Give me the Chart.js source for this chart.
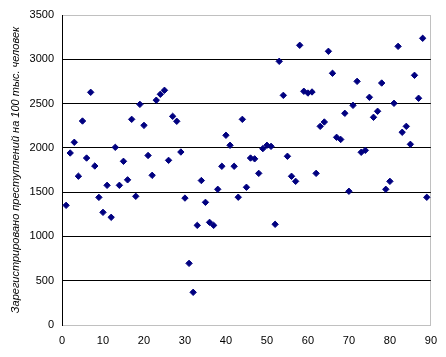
<!DOCTYPE html>
<html>
<head>
<meta charset="utf-8">
<script src="https://cdn.jsdelivr.net/npm/chart.js@4"></script>
<style>
  html, body { margin: 0; padding: 0; background: #ffffff; }
  #wrap { width: 446px; height: 357px; }
</style>
</head>
<body>
<div id="wrap"><canvas id="c" width="446" height="357"></canvas></div>
<script>
const regionIndex = [
  1,2,3,4,5,6,7,8,9,10,11,12,13,14,15,16,17,18,19,20,
  21,22,23,24,25,26,27,28,29,30,31,32,33,34,35,36,37,38,39,40,
  41,42,43,44,45,46,47,48,49,50,51,52,53,54,55,56,57,58,59,60,
  61,62,63,64,65,66,67,68,69,70,71,72,73,74,75,76,77,78,79,80,
  81,82,83,84,85,86,87,88,89
];
const crimesPer100k = [
  1351,1942,2063,1680,2303,1885,2627,1795,1441,1272,
  1577,1216,2006,1577,1848,1639,2322,1453,2491,2254,
  1914,1690,2538,2605,2650,1859,2356,2300,1953,1433,
  696,369,1125,1631,1385,1159,1125,1532,1792,2142,
  2029,1792,1443,2322,1555,1885,1876,1712,1991,2029,
  2017,1137,2977,2593,1905,1679,1622,3158,2639,2619,
  2631,1712,2243,2292,3090,2842,2119,2095,2390,1510,
  2480,2751,1950,1972,2571,2345,2413,2732,1532,1622,
  2503,3146,2176,2243,2040,2819,2560,3237,1442
];
const xTicks = [0,10,20,30,40,50,60,70,80,90];
const yTicks = [0,500,1000,1500,2000,2500,3000,3500];
const yAxisTitle = 'Зарегистрировано преступлений на 100 тыс. человек';

const points = regionIndex.map((x, i) => ({ x: x, y: crimesPer100k[i] }));
const FONT = 'Arial, "Liberation Sans", sans-serif';

new Chart(document.getElementById('c'), {
  type: 'scatter',
  data: {
    datasets: [{
      data: points,
      pointStyle: 'rectRot',
      pointRadius: 3.2,
      pointBorderWidth: 1,
      backgroundColor: '#000080',
      borderColor: '#000080'
    }]
  },
  options: {
    responsive: false,
    animation: false,
    devicePixelRatio: 1,
    layout: { padding: { left: 0, right: 12, top: 15, bottom: 0 } },
    plugins: { legend: { display: false }, tooltip: { enabled: false } },
    scales: {
      x: {
        type: 'linear',
        min: 0, max: 90,
        afterBuildTicks: (s) => { s.ticks = xTicks.map(v => ({ value: v })); },
        afterFit: (s) => { s.height = 32; },
        border: { display: true, color: '#c0c0c0', width: 1 },
        grid: {
          drawTicks: false,
          color: (ctx) => (ctx.tick && ctx.tick.value === 90) ? '#c0c0c0' : 'rgba(0,0,0,0)'
        },
        ticks: {
          color: '#000', font: { family: FONT, size: 11 }, padding: 9, maxRotation: 0,
          callback: (v) => String(v)
        }
      },
      y: {
        type: 'linear',
        min: 0, max: 3500,
        afterBuildTicks: (s) => { s.ticks = yTicks.map(v => ({ value: v })); },
        afterFit: (s) => { s.width = 62; },
        border: { display: true, color: '#000', width: 1 },
        grid: {
          drawTicks: false,
          color: (ctx) => (ctx.tick && (ctx.tick.value === 0 || ctx.tick.value === 3500)) ? '#c0c0c0' : '#000'
        },
        ticks: {
          color: '#000', font: { family: FONT, size: 11 }, padding: 8,
          callback: (v) => String(v)
        },
        title: {
          display: true,
          text: yAxisTitle,
          color: '#000',
          font: { family: FONT, size: 11, style: 'italic' },
          padding: { top: 9, bottom: 0 }
        }
      }
    }
  }
});
</script>
</body>
</html>
